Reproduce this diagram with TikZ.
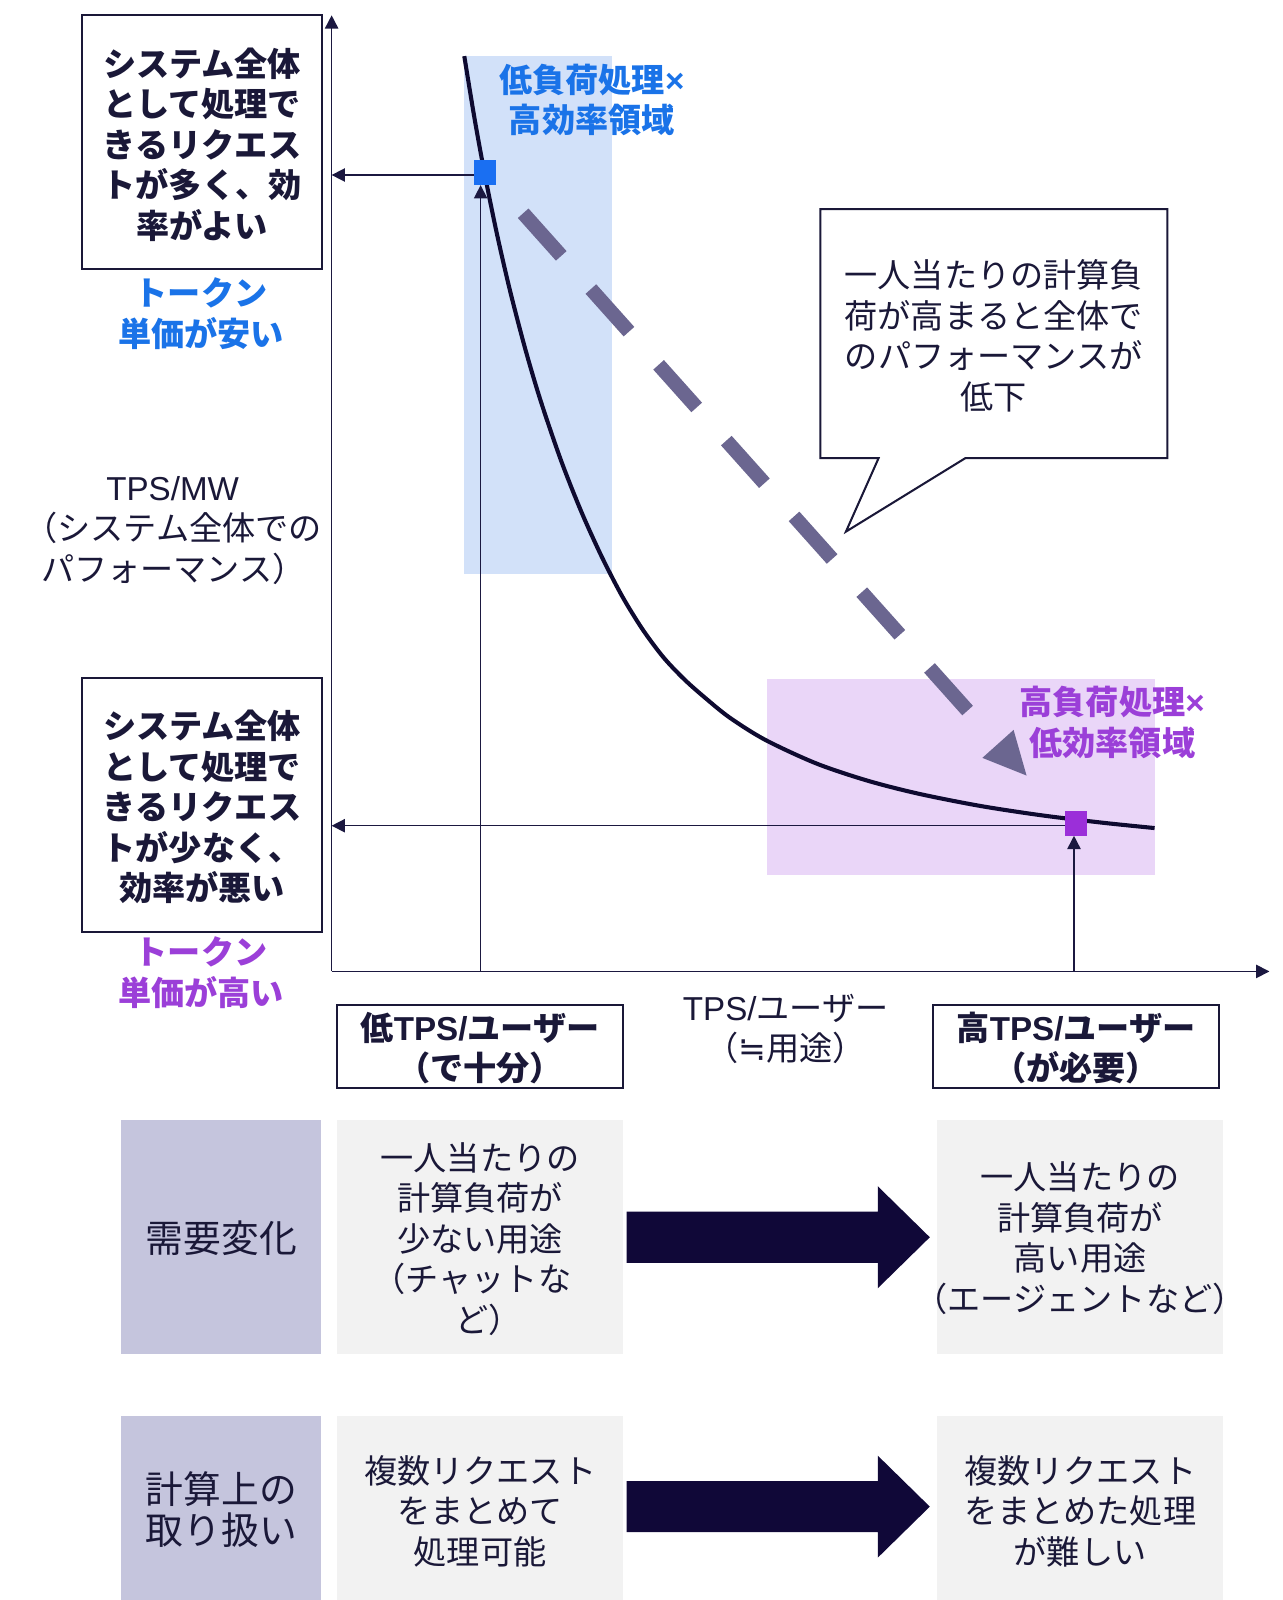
\documentclass[tikz,border=0pt]{standalone}
\usepackage{fontspec}
\setmainfont{Noto Sans CJK JP}
\newfontfamily\latin{Liberation Sans}
\newfontfamily\dejavu{DejaVu Sans}
\usetikzlibrary{arrows.meta,calc}

\definecolor{ink}{HTML}{1A1838}
\definecolor{navy}{HTML}{1B1840}
\definecolor{curvecol}{HTML}{0E0A30}
\definecolor{bluefill}{HTML}{D2E1F9}
\definecolor{purplefill}{HTML}{EAD6F8}
\definecolor{bluetxt}{HTML}{1A73E8}
\definecolor{purpletxt}{HTML}{9B3FD8}
\definecolor{bluemark}{HTML}{1A6FF2}
\definecolor{purplemark}{HTML}{9B2FD9}
\definecolor{dashcol}{HTML}{6B6690}
\definecolor{hdr}{HTML}{C5C5DD}
\definecolor{cellbg}{HTML}{F2F2F2}
\definecolor{bigarrow}{HTML}{100838}

\newcommand\lp{{\addfontfeature{RawFeature=+halt}（}}
\newcommand\rp{{\addfontfeature{RawFeature=+halt}）}}
\newcommand\fsn{\fontsize{32.5pt}{39.7pt}\selectfont}
\newcommand\fsh{\fontsize{37pt}{40pt}\selectfont}

\tikzset{
  txt/.style={font=\fsn, text=ink, align=center, inner sep=0pt},
  btxt/.style={font=\fsn\bfseries, text=ink, align=center, inner sep=0pt},
  framebox/.style={draw=ink, line width=2pt, fill=white, inner sep=0pt},
  thinarrow/.style={draw=navy, line width=1.5pt, -{Triangle[length=13pt,width=13pt]}},
  axisarrow/.style={draw=navy, line width=1.6pt, -{Triangle[length=13pt,width=13pt]}},
  curveline/.style={draw=curvecol, line width=4pt},
  marker/.style={minimum width=22pt, minimum height=24.5pt, inner sep=0pt},
  dashline/.style={draw=dashcol, line width=14pt, dash pattern=on 56pt off 43.6pt},
  hdrcell/.style={fill=hdr, inner sep=0pt, minimum width=196pt},
  bodycell/.style={fill=cellbg, inner sep=0pt, minimum width=281pt},
  hdrtxt/.style={font=\fsh, text=ink, align=center, inner sep=0pt},
  blockarrow/.style={fill=bigarrow},
}

\begin{document}
\begin{tikzpicture}[x=1pt,y=-1pt]
\fill[white] (0,0) rectangle (1257,1568);
\useasboundingbox (0,0) rectangle (1257,1568);

% regions
\fill[bluefill] (455,55) rectangle (600,563);
\fill[purplefill] (752,665) rectangle (1131.5,857);

% axes
\coordinate (O) at (325,952);
\coordinate (ytop) at (325,15);
\coordinate (xend) at (1244,952);
\draw[axisarrow] (O) -- (ytop);
\draw[axisarrow] (O) -- (xend);

% curve
\draw[curveline] plot[smooth, tension=0.5] coordinates {(455,55) (465,115.9) (475,170.6) (487,229.3) (500,285.6) (515,342.9) (530,393.3) (550,451.8) (570,502.2) (590,546.2) (610,584.8) (630,617.2) (650,644) (670,665.2) (690,683) (715,703.2) (750,725.1) (800,748.2) (850,765) (900,777.8) (960,789.7) (1020,798.9) (1080,806.2) (1131.5,811.5)};

% markers
\node[marker, fill=bluemark] (mb) at (475.5,169) {};
\node[marker, fill=purplemark] (mp) at (1054.5,806.6) {};

% helper arrows
\coordinate (pb) at (471,952);
\coordinate (pp) at (1052.5,952);
\draw[thinarrow] ([yshift=-2.5pt]mb.west) -- ([yshift=-2.5pt]mb.west -| O);
\draw[thinarrow] (pb) -- (pb |- mb.south);
\draw[thinarrow] ([yshift=-2.6pt]mp.west) -- ([yshift=-2.6pt]mp.west -| O);
\draw[thinarrow] (pp) -- (pp |- mp.south);

% dashed trend arrow
\coordinate (ds) at (512.7,209);
\coordinate (de) at (948.9,697.1);
\draw[dashline] (ds) -- (de);
\coordinate (tipT) at (1006,760);
\coordinate (tipA) at (993.3,715.3);
\coordinate (tipB) at (962.7,742.7);
\fill[dashcol] (tipT) -- (tipA) -- (tipB) -- cycle;

% speech bubble
\coordinate (b1) at (804,205);
\coordinate (b2) at (1144,449);
\draw[draw=ink, line width=2pt, fill=white] (b1) -- (b1 -| b2) -- (b2) -- (946,449) -- (829,521) -- (861,449) -- (b1 |- b2) -- cycle;
\node[txt] (bubtxt) at (974,329) {一人当たりの計算負\\荷が高まると全体で\\のパフォーマンスが\\低下};

% left boxes
\node[framebox, minimum width=236pt, minimum height=249pt] (boxtop) at (198,139.5) {};
\node[btxt] (boxtoptxt) at (198,141.7) {システム全体\\として処理で\\きるリクエス\\トが多く、効\\率がよい};
\node[btxt, text=bluetxt] (cheap) at (197,307.3) {トークン\\単価が安い};
\node[txt, align=left, anchor=west] (ylab) at (40,519.5) {\hspace*{64pt}{\latin TPS/MW}\\\lp システム全体での\\パフォーマンス\rp};
\node[framebox, minimum width=236pt, minimum height=249pt] (boxbot) at (198,788.5) {};
\node[btxt] (boxbottxt) at (198,791) {システム全体\\として処理で\\きるリクエス\\トが少なく、\\効率が悪い};
\node[btxt, text=purpletxt] (dear) at (197,953) {トークン\\単価が高い};

% region labels
\node[btxt, text=bluetxt] (lowlab) at (580,98) {低負荷処理{\latin\bfseries ×}\\高効率領域};
\node[btxt, text=purpletxt] (highlab) at (1090,708) {高負荷処理{\latin\bfseries ×}\\低効率領域};

% x labels
\node[framebox, minimum width=281pt, minimum height=81pt] (lowtps) at (470.5,1025.5) {};
\node[btxt] (lowtpstxt) at (470.5,1027) {低{\latin TPS/}ユーザー\\\lp で十分\rp};
\node[txt] (xlab) at (770,1008.5) {{\latin TPS/}ユーザー\\\lp{\dejavu ≒}用途\rp};
\node[framebox, minimum width=281pt, minimum height=81pt] (hightps) at (1054.5,1025.5) {};
\node[btxt] (hightpstxt) at (1054.5,1027) {高{\latin TPS/}ユーザー\\\lp が必要\rp};

% table row 1
\node[hdrcell, minimum height=229pt] (h1) at (217,1212.5) {};
\node[hdrtxt] (h1txt) at (217,1213) {需要変化};
\node[bodycell, minimum height=229pt] (c11) at (470.5,1212.5) {};
\node[txt] (c11txt) at (470.5,1214) {一人当たりの\\計算負荷が\\少ない用途\\\lp チャットな\\ど\rp};
\node[bodycell, minimum height=229pt] (c12) at (1058.5,1212.5) {};
\node[txt] (c12txt) at (1058.5,1213.5) {一人当たりの\\計算負荷が\\高い用途\\\lp エージェントなど\rp};
\fill[blockarrow] ([xshift=3pt]c11.east) ++(0,-25) -- ++(246,0) -- ++(0,-25) -- ++(51,50) -- ++(-51,50) -- ++(0,-25) -- ++(-246,0) -- cycle;

% table row 2
\node[hdrcell, minimum height=180pt] (h2) at (217,1478) {};
\node[hdrtxt] (h2txt) at (217,1479.5) {計算上の\\取り扱い};
\node[bodycell, minimum height=180pt] (c21) at (470.5,1478) {};
\node[txt] (c21txt) at (470.5,1481) {複数リクエスト\\をまとめて\\処理可能};
\node[bodycell, minimum height=180pt] (c22) at (1058.5,1478) {};
\node[txt] (c22txt) at (1058.5,1481) {複数リクエスト\\をまとめた処理\\が難しい};
\fill[blockarrow] ([xshift=3pt,yshift=1.5pt]c21.east) ++(0,-25) -- ++(246,0) -- ++(0,-25) -- ++(51,50) -- ++(-51,50) -- ++(0,-25) -- ++(-246,0) -- cycle;
\end{tikzpicture}
\end{document}
